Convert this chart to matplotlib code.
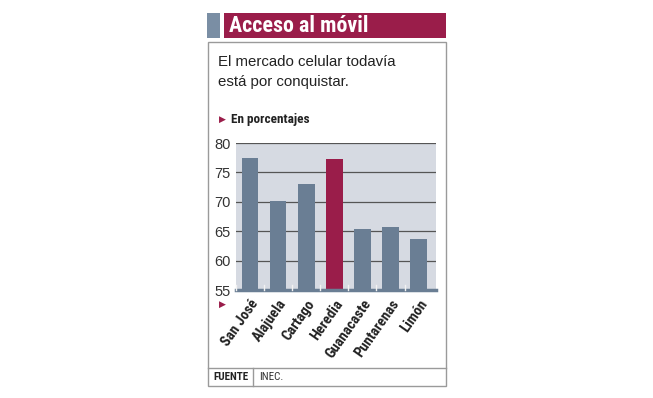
import matplotlib
matplotlib.use("Agg")
import matplotlib.pyplot as plt
from matplotlib.patches import Rectangle
from matplotlib.lines import Line2D

# data
provincias = ["San José", "Alajuela", "Cartago", "Heredia", "Guanacaste", "Puntarenas", "Limón"]
porcentajes = [77.5, 70.2, 73.0, 77.2, 65.3, 65.7, 63.6]
destacada = "Heredia"
yticks = [55, 60, 65, 70, 75, 80]

W, H = 653, 398
SLATE = "#6a7e94"
CRIMSON = "#9a1d4a"
NARROW = ["Roboto Condensed", "DejaVu Sans"]
REG = ["Liberation Sans", "DejaVu Sans"]


def fx(px):
    return px / W


def fy(py):
    return 1 - py / H


def rect(fig, x0, y0, x1, y1, **kw):
    fig.patches.append(Rectangle((fx(x0), fy(y1)), fx(x1) - fx(x0), fy(y0) - fy(y1),
                                 transform=fig.transFigure, figure=fig, **kw))


fig = plt.figure(figsize=(W / 100, H / 100), dpi=100)

# title bar
rect(fig, 207, 13, 220, 38, color="#7a8ea4", lw=0)
rect(fig, 224, 13, 446, 38, color=CRIMSON, lw=0)
fig.text(fx(229), fy(26), "Acceso al móvil", color="white", fontsize=15.8, fontweight="bold",
         family=NARROW, va="center", ha="left")

# main box
rect(fig, 208, 42, 446, 386, fill=False, ec="#9a9a9a", lw=1)
fig.lines.append(Line2D([fx(208), fx(446)], [fy(368), fy(368)], transform=fig.transFigure,
                        color="#9a9a9a", lw=1))
fig.lines.append(Line2D([fx(253), fx(253)], [fy(368), fy(386)], transform=fig.transFigure,
                        color="#9a9a9a", lw=1))
fig.text(fx(213), fy(377.5), "FUENTE", fontsize=8, fontweight="bold", family=NARROW,
         color="#222222", va="center")
fig.text(fx(259), fy(377.5), "INEC.", fontsize=8, family=NARROW, color="#333333", va="center")

# subtitle
fig.text(fx(218), fy(62), "El mercado celular todavía", fontsize=10.8, family=REG,
         color="#222222", va="center")
fig.text(fx(218), fy(82), "está por conquistar.", fontsize=10.8, family=REG,
         color="#222222", va="center")

# unit label
fig.text(fx(219), fy(119), "\u25B6", fontsize=6.5, color=CRIMSON, va="center",
         family=["DejaVu Sans"])
fig.text(fx(231), fy(119), "En porcentajes", fontsize=9.5, fontweight="bold", family=NARROW,
         color="#222222", va="center")
fig.text(fx(219), fy(304), "\u25B6", fontsize=6.5, color=CRIMSON, va="center",
         family=["DejaVu Sans"])

# chart
ax = fig.add_axes([fx(236), fy(290), fx(436) - fx(236), fy(143) - fy(290)])
ax.set_facecolor("#d6dae2")
colores = [CRIMSON if p == destacada else SLATE for p in provincias]
x = range(len(provincias))
ax.bar(x, [v - 55 for v in porcentajes], bottom=55, width=0.59, color=colores, zorder=3)
ax.set_ylim(55, 80)
ax.set_xlim(-0.5, 6.62)
ax.set_yticks(yticks)
ax.set_yticklabels([str(t) for t in yticks], fontsize=10.5, family=REG, color="#333333")
ax.yaxis.grid(True, color="#555555", lw=0.9, zorder=1)
ax.tick_params(axis="y", length=0, pad=4)
for s in ["top", "right", "left"]:
    ax.spines[s].set_visible(False)
ax.spines["bottom"].set_color(SLATE)
ax.spines["bottom"].set_linewidth(2.5)
ax.spines["bottom"].set_zorder(4)

# small ticks between bars
for b in [i + 0.5 for i in range(len(provincias) - 1)] + [-0.5]:
    ax.plot([b, b], [55, 55.9], color="#f2f2f2", lw=1, zorder=5, clip_on=False)

ax.set_xticks(list(x))
ax.set_xticklabels(provincias, rotation=55, ha="right", va="top", rotation_mode="anchor",
                   fontsize=10.5, fontweight="bold", family=NARROW, color="#222222")
ax.tick_params(axis="x", length=0, pad=5)

fig.savefig("out.png", dpi=100, facecolor="white")
